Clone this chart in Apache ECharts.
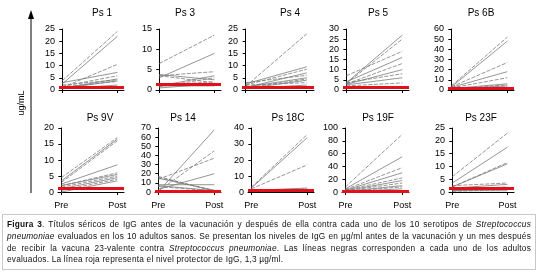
<!DOCTYPE html>
<html>
<head>
<meta charset="utf-8">
<script src="https://cdn.jsdelivr.net/npm/echarts@6/dist/echarts.min.js"></script>
<style>
  html, body { margin: 0; padding: 0; background: #fff; }
  #wrap { position: relative; width: 536px; height: 279px; overflow: hidden; }
  #chart { position: absolute; left: 0; top: 0; width: 536px; height: 279px; }
  #caption {
    position: absolute; left: 2px; top: 214px; width: 524px;
    padding: 4px 4px 3px 4px; border: 1px solid #c8c8c8;
    font-family: 'Liberation Sans', Arial, sans-serif; font-size: 8.3px; letter-spacing: 0.2px;
    line-height: 11.8px; color: #111; text-align: justify;
  }
  #caption i { font-style: italic; }
</style>
</head>
<body>
<div id="wrap">
  <div id="chart"></div>
  <div id="caption">
    <b>Figura 3</b>. Títulos séricos de IgG antes de la vacunación y después de ella contra cada uno de los 10 serotipos de <i>Streptococcus pneumoniae</i> evaluados en los 10 adultos sanos. Se presentan los niveles de IgG en µg/ml antes de la vacunación y un mes después de recibir la vacuna 23-valente contra <i>Streptococcus pneumoniae</i>. Las líneas negras corresponden a cada uno de los adultos evaluados. La línea roja representa el nivel protector de IgG, 1,3 µg/ml.
  </div>
</div>
<script>
  // datos
  const panelNames = ['Ps 1', 'Ps 3', 'Ps 4', 'Ps 5', 'Ps 6B', 'Ps 9V', 'Ps 14', 'Ps 18C', 'Ps 19F', 'Ps 23F'];
  const axisTops = [25, 15, 25, 30, 60, 20, 70, 40, 100, 25];
  const tickSteps = [5, 5, 5, 5, 10, 5, 10, 10, 20, 5];
  const xLabels = ['Pre', 'Post'];
  const protectiveLevel = 1.3;

  const prePs1 = [3.8, 2.5, 1.0, 3.0, 1.5, 0.8, 2.0, 0.6, 1.2, 0.5];
  const postPs1 = [24, 22, 10.5, 7.2, 5.8, 4.5, 4.2, 3.8, 3.5, 2.0];
  const prePs3 = [6.5, 3.0, 3.5, 3.8, 3.5, 1.0, 0.8, 0.5, 1.2, 1.0];
  const postPs3 = [13.5, 9.0, 4.5, 2.5, 1.8, 3.5, 3.0, 1.5, 2.0, 1.0];
  const prePs4 = [1.5, 2.5, 2.0, 1.0, 3.0, 1.2, 0.8, 0.5, 2.0, 0.6];
  const postPs4 = [23, 9.5, 8.5, 7.0, 6.0, 5.0, 4.5, 4.0, 3.0, 2.0];
  const prePs5 = [7.0, 3.5, 3.2, 4.0, 3.0, 2.8, 3.5, 2.5, 2.0, 1.5];
  const postPs5 = [19, 27, 25, 16, 13, 10, 8, 6, 3.5, 1.5];
  const prePs6B = [4.0, 3.0, 3.0, 2.5, 2.0, 1.5, 1.0, 1.0, 0.5, 0.5];
  const postPs6B = [52, 48, 27, 18, 12, 6, 5, 4, 3, 2];
  const prePs9V = [4.5, 3.5, 3.0, 2.5, 2.0, 2.0, 1.5, 1.0, 0.5, 0.0];
  const postPs9V = [17, 16.5, 16, 8.5, 6, 5.5, 5, 4.5, 4, 3.5];
  const prePs14 = [17, 15, 14, 8, 6, 3, 1, 0.5, 16, 7];
  const postPs14 = [1, 2, 37, 8, 1, 20, 45, 68, 1.5, 1.5];
  const prePs18C = [3.0, 2.5, 2.0, 1.0, 1.0, 0.5, 0.5, 1.5, 0.5, 0.3];
  const postPs18C = [36, 34, 17, 2.5, 2.0, 1.5, 1.5, 1.0, 1.0, 0.8];
  const prePs19F = [8, 5, 4, 3, 3, 2, 2, 1, 1, 0.5];
  const postPs19F = [90, 55, 38, 30, 22, 18, 14, 10, 8, 5];
  const prePs23F = [6.0, 3.5, 2.0, 2.0, 2.5, 1.5, 1.0, 0.5, 0.3, 0.5];
  const postPs23F = [23, 17.5, 11.5, 11, 3.5, 3, 2, 1.5, 1, 0.5];

  const preValues = [prePs1, prePs3, prePs4, prePs5, prePs6B, prePs9V, prePs14, prePs18C, prePs19F, prePs23F];
  const postValues = [postPs1, postPs3, postPs4, postPs5, postPs6B, postPs9V, postPs14, postPs18C, postPs19F, postPs23F];

  // posicion de cada panel (px)
  const gridLefts = [59, 156, 242, 343, 448, 58, 155, 248, 342, 449];
  const gridWidths = [65, 65, 72, 66, 66, 66, 66, 66, 67, 65];
  const titleX = [102, 185, 290, 378, 481, 100, 183, 288, 378, 481];

  const font = "'Liberation Sans', Arial, sans-serif";
  let grids = [], xAxes = [], yAxes = [], series = [], graphics = [];

  panelNames.forEach(function (name, i) {
    let row = i < 5 ? 0 : 1;
    let top = row === 0 ? 29 : 128;
    let h = row === 0 ? 63.4 : 66.6;
    grids.push({left: gridLefts[i], top: top, width: gridWidths[i], height: h});

    xAxes.push({
      type: 'value', gridIndex: i, min: -0.06, max: 1.12,
      splitLine: {show: false},
      axisLine: {show: true, lineStyle: {color: '#000', width: 1}},
      axisTick: {show: true, inside: false, length: 3, customValues: [0, 1], lineStyle: {color: '#000'}},
      axisLabel: {
        show: row === 1, customValues: [0, 1], margin: 6,
        fontFamily: font, fontSize: 9, color: '#000',
        formatter: function (v) { return xLabels[Math.round(v)]; }
      }
    });

    let ticks = [];
    for (let v = 0; v <= axisTops[i]; v += tickSteps[i]) ticks.push(v);
    yAxes.push({
      type: 'value', gridIndex: i, min: -axisTops[i] * 0.04, max: axisTops[i],
      splitLine: {show: false},
      axisLine: {show: true, lineStyle: {color: '#000', width: 1}},
      axisTick: {show: true, length: 3, customValues: ticks, lineStyle: {color: '#000'}},
      axisLabel: {customValues: ticks, margin: 4, fontFamily: font, fontSize: 9, color: '#000'}
    });

    preValues[i].forEach(function (pre, k) {
      let s = {
        type: 'line', xAxisIndex: i, yAxisIndex: i,
        data: [[0, pre], [1, postValues[i][k]]],
        symbol: 'none', silent: true,
        lineStyle: {color: '#7a7a7a', width: 0.8, type: k % 2 === 0 ? [4, 1.5] : 'solid'}
      };
      if (k === 0) {
        s.markLine = {
          silent: true, symbol: 'none', label: {show: false},
          lineStyle: {color: '#e3101a', width: 3, type: 'solid'},
          data: [{yAxis: protectiveLevel}]
        };
      }
      series.push(s);
    });

    graphics.push({
      type: 'text', x: titleX[i], y: row === 0 ? 13 : 118,
      style: {text: name, font: '10px ' + font, fill: '#000', textAlign: 'center', textVerticalAlign: 'middle'}
    });
  });

  // eje vertical comun con flecha
  graphics.push({type: 'line', shape: {x1: 31, y1: 193, x2: 31, y2: 16}, style: {stroke: '#000', lineWidth: 1}});
  graphics.push({type: 'polygon', shape: {points: [[28, 19], [34, 19], [31, 10]]}, style: {fill: '#000'}});
  graphics.push({
    type: 'text', x: 22, y: 103, rotation: Math.PI / 2,
    style: {text: 'ug/mL', font: '9px ' + font, fill: '#000', textAlign: 'center', textVerticalAlign: 'middle'}
  });

  let chart = echarts.init(document.getElementById('chart'));
  chart.setOption({
    animation: false,
    grid: grids,
    xAxis: xAxes,
    yAxis: yAxes,
    series: series,
    graphic: graphics
  });
</script>
</body>
</html>
